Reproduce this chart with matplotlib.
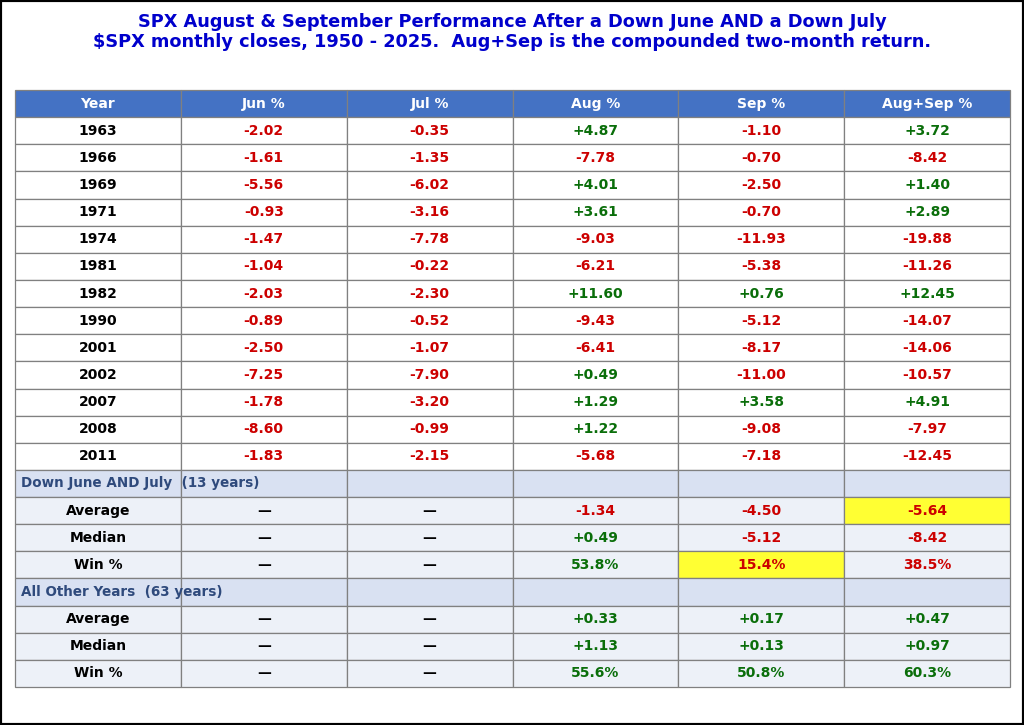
import matplotlib.pyplot as plt
from matplotlib.patches import Rectangle

# data
columns = ["Year", "Jun %", "Jul %", "Aug %", "Sep %", "Aug+Sep %"]
years = ["1963", "1966", "1969", "1971", "1974", "1981", "1982",
         "1990", "2001", "2002", "2007", "2008", "2011"]
jun = [-2.02, -1.61, -5.56, -0.93, -1.47, -1.04, -2.03, -0.89, -2.50, -7.25, -1.78, -8.60, -1.83]
jul = [-0.35, -1.35, -6.02, -3.16, -7.78, -0.22, -2.30, -0.52, -1.07, -7.90, -3.20, -0.99, -2.15]
aug = [4.87, -7.78, 4.01, 3.61, -9.03, -6.21, 11.60, -9.43, -6.41, 0.49, 1.29, 1.22, -5.68]
sep = [-1.10, -0.70, -2.50, -0.70, -11.93, -5.38, 0.76, -5.12, -8.17, -11.00, 3.58, -9.08, -7.18]
augsep = [3.72, -8.42, 1.40, 2.89, -19.88, -11.26, 12.45, -14.07, -14.06, -10.57, 4.91, -7.97, -12.45]

stat_names = ["Average", "Median", "Win %"]
down_title = "Down June AND July  (13 years)"
down_aug = [-1.34, 0.49, 53.8]
down_sep = [-4.50, -5.12, 15.4]
down_augsep = [-5.64, -8.42, 38.5]
other_title = "All Other Years  (63 years)"
other_aug = [0.33, 1.13, 55.6]
other_sep = [0.17, 0.13, 50.8]
other_augsep = [0.47, 0.97, 60.3]

RED = "#cc0000"
GREEN = "#0a6e0a"
HEAD = "#4472c4"
SECTION = "#d9e1f2"
STAT = "#edf1f8"
YELLOW = "#ffff33"
EDGE = "#808080"


def fmt(v, kind):
    if kind == "win":
        return "%.1f%%" % v
    return "%+.2f" % v


def win_color(v):
    return GREEN if v >= 50 else RED


cell_text = []
colors_txt = []
faces = []
kinds = []  # 'data', section tuple, 'stat'

for i, y in enumerate(years):
    vals = [jun[i], jul[i], aug[i], sep[i], augsep[i]]
    cell_text.append([y] + [fmt(v, "ret") for v in vals])
    colors_txt.append(["black"] + [GREEN if v > 0 else RED for v in vals])
    faces.append(["white"] * 6)
    kinds.append("data")

for title, a, s, b in [(down_title, down_aug, down_sep, down_augsep),
                       (other_title, other_aug, other_sep, other_augsep)]:
    cell_text.append([""] * 6)
    colors_txt.append(["black"] * 6)
    faces.append([SECTION] * 6)
    kinds.append(("section", title))
    for j, name in enumerate(stat_names):
        kind = "win" if name == "Win %" else "ret"
        vals = [a[j], s[j], b[j]]
        cell_text.append([name, "\u2014", "\u2014"] + [fmt(v, kind) for v in vals])
        if kind == "win":
            cols = [win_color(v) for v in vals]
        else:
            cols = [GREEN if v > 0 else RED for v in vals]
        colors_txt.append(["black", "black", "black"] + cols)
        faces.append([STAT] * 6)
        kinds.append("stat")

# highlights
faces[len(years) + 1][5] = YELLOW   # down avg Aug+Sep
faces[len(years) + 3][4] = YELLOW   # down win% Sep

fig = plt.figure(figsize=(10.24, 7.25), dpi=100)
ax = fig.add_axes([0, 0, 1, 1])
ax.set_xlim(0, 1)
ax.set_ylim(0, 1)
ax.axis("off")

x0, x1 = 15 / 1024, 1010 / 1024
ytop, ybot = 1 - 90 / 725, 1 - 687 / 725
tbl = ax.table(cellText=cell_text, colLabels=columns, cellLoc="center",
               bbox=[x0, ybot, x1 - x0, ytop - ybot])
tbl.auto_set_font_size(False)

for (r, c), cell in tbl.get_celld().items():
    cell.set_edgecolor(EDGE)
    cell.set_linewidth(0.9)
    txt = cell.get_text()
    txt.set_fontsize(10)
    txt.set_fontweight("bold")
    if r == 0:
        cell.set_facecolor(HEAD)
        txt.set_color("white")
    else:
        cell.set_facecolor(faces[r - 1][c])
        txt.set_color(colors_txt[r - 1][c])

nrows = len(cell_text) + 1
rowh = (ytop - ybot) / nrows
for i, k in enumerate(kinds):
    if isinstance(k, tuple):
        yc = ytop - (i + 1.5) * rowh
        ax.text(x0 + 6 / 1024, yc, k[1], ha="left", va="center", fontsize=9.75,
                fontweight="bold", color="#2f4a7c", zorder=5)

fig.text(0.5, 1 - 22 / 725, "SPX August & September Performance After a Down June AND a Down July",
         ha="center", va="center", fontsize=12.75, fontweight="bold", color="#0000cc")
fig.text(0.5, 1 - 42 / 725, "$SPX monthly closes, 1950 - 2025.  Aug+Sep is the compounded two-month return.",
         ha="center", va="center", fontsize=12.75, fontweight="bold", color="#0000cc")

fig.patches.append(Rectangle((0, 0), 1, 1, transform=fig.transFigure, fill=False,
                             edgecolor="black", linewidth=3))

fig.savefig("out.png", dpi=100)
